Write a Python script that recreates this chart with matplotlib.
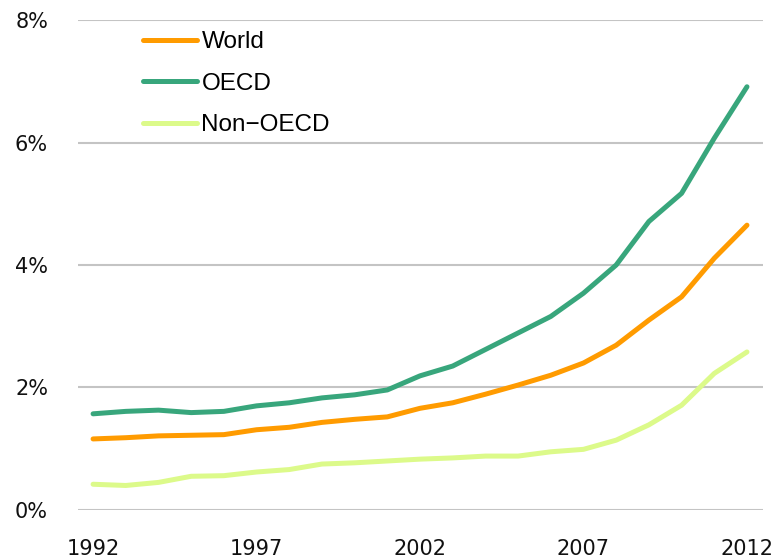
import numpy as np
import matplotlib
matplotlib.use('Agg')
import matplotlib.pyplot as plt

# data
years = list(range(1992, 2013))
world = [1.16, 1.18, 1.21, 1.22, 1.23, 1.31, 1.35, 1.43, 1.48, 1.52,
         1.66, 1.75, 1.89, 2.04, 2.20, 2.40, 2.69, 3.10, 3.48, 4.11, 4.65]
oecd = [1.57, 1.61, 1.63, 1.59, 1.61, 1.70, 1.75, 1.83, 1.88, 1.96,
        2.19, 2.35, 2.62, 2.89, 3.16, 3.54, 4.00, 4.71, 5.17, 6.07, 6.91]
non_oecd = [0.42, 0.40, 0.45, 0.55, 0.56, 0.62, 0.66, 0.75, 0.77, 0.80,
            0.83, 0.85, 0.88, 0.88, 0.95, 0.99, 1.14, 1.39, 1.71, 2.23, 2.58]
y_ticks = [0, 2, 4, 6, 8]
x_ticks = [1992, 1997, 2002, 2007, 2012]

plt.rcParams['font.family'] = ['Liberation Sans', 'DejaVu Sans']

fig = plt.figure(figsize=(7.78, 5.59), dpi=100)
ax = fig.add_axes([0.1003, 0.0877, 0.8804, 0.8765])

ax.plot(years, world, color='#ff9b00', lw=3.6, solid_capstyle='round', label='World')
ax.plot(years, oecd, color='#38a67c', lw=3.6, solid_capstyle='round', label='OECD')
ax.plot(years, non_oecd, color='#dcfa8a', lw=3.6, solid_capstyle='round', label='Non\u2212OECD')

ax.set_ylim(0, 8)
ax.set_xlim(1991.54, 2012.49)
ax.set_yticks(y_ticks)
ax.set_yticklabels(['%d%%' % v for v in y_ticks], family='DejaVu Sans')
ax.set_xticks(x_ticks)
ax.set_xticklabels([str(v) for v in x_ticks], family='DejaVu Sans')
ax.grid(axis='y', color='#c4c4c4', lw=1.5)
ax.set_axisbelow(True)
for s in ax.spines.values():
    s.set_visible(False)
ax.tick_params(axis='both', length=0, labelsize=15, colors='#111111')
ax.tick_params(axis='y', pad=21.6)
ax.tick_params(axis='x', pad=21)

ax.legend(loc='upper left', bbox_to_anchor=(0.095, 0.977), frameon=False,
          fontsize=17.5, handlelength=2.2, handletextpad=0.2, labelspacing=0.8,
          borderpad=0, borderaxespad=0)

plt.savefig('out.png', dpi=100)
